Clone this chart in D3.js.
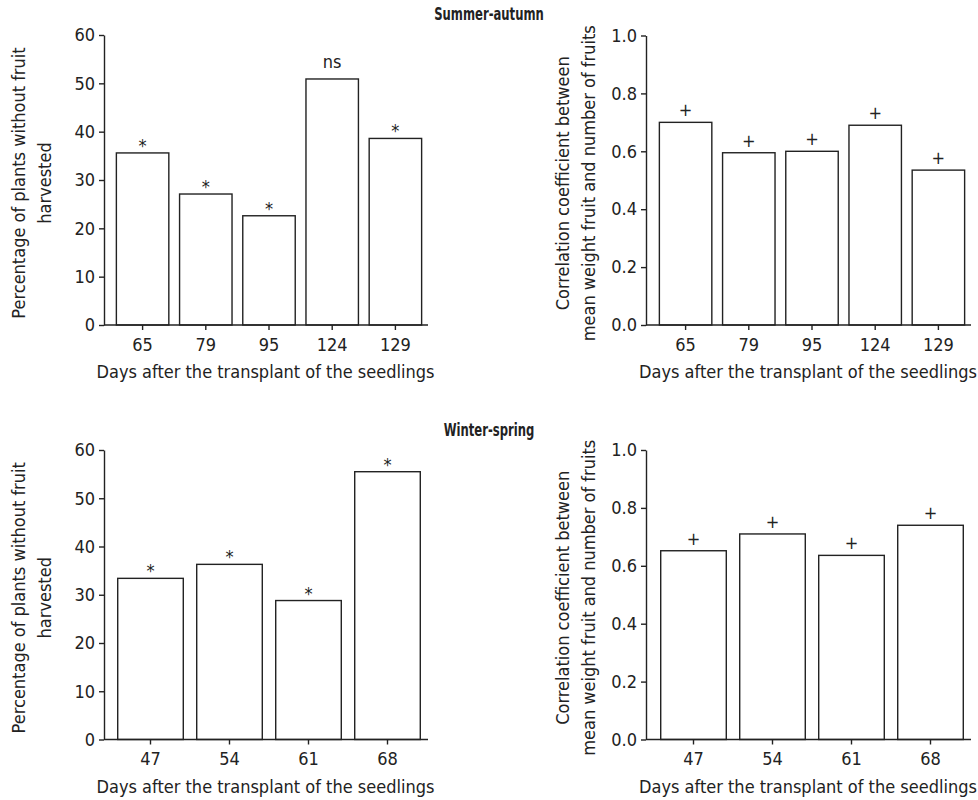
<!DOCTYPE html>
<html>
<head>
<meta charset="utf-8">
<script src="https://cdn.jsdelivr.net/npm/d3@7"></script>
<style>
  html, body { margin: 0; padding: 0; background: #fff; }
  svg text { font-family: "Liberation Sans Narrow", "Arial Narrow", "DejaVu Sans Condensed", sans-serif; fill: #222; }
</style>
</head>
<body>
<svg id="chart" width="978" height="800"></svg>
<script>
// ---- Data ----
const summerDays = ["65", "79", "95", "124", "129"];
const summerPctNoFruit = [35.6, 27.1, 22.6, 50.9, 38.6];
const summerPctMarks = ["*", "*", "*", "ns", "*"];
const summerCorr = [0.70, 0.595, 0.60, 0.69, 0.535];
const summerCorrMarks = ["+", "+", "+", "+", "+"];

const winterDays = ["47", "54", "61", "68"];
const winterPctNoFruit = [33.4, 36.3, 28.8, 55.5];
const winterPctMarks = ["*", "*", "*", "*"];
const winterCorr = [0.652, 0.71, 0.636, 0.74];
const winterCorrMarks = ["+", "+", "+", "+"];

const pctTicks = [0, 10, 20, 30, 40, 50, 60];
const corrTicks = [0, 0.2, 0.4, 0.6, 0.8, 1.0];
const seasonTitles = ["Summer-autumn", "Winter-spring"];
const xTitle = "Days after the transplant of the seedlings";
const pctLabel = ["Percentage of plants without fruit", "harvested"];
const corrLabel = ["Correlation coefficient between", "mean weight fruit and number of fruits"];

const svg = d3.select("#chart");
const ink = "#222";

function panel(opts) {
  const g = svg.append("g");
  const x = d3.scaleBand().domain(opts.cats).range([opts.x0, opts.x1])
    .paddingInner(0.17).paddingOuter(0.085);
  const y = d3.scaleLinear().domain([0, opts.ymax]).range([opts.yb, opts.yt]);

  // bars
  g.selectAll("rect.bar").data(opts.vals).join("rect")
    .attr("class", "bar")
    .attr("x", (d, i) => x(opts.cats[i]))
    .attr("width", x.bandwidth())
    .attr("y", d => y(d))
    .attr("height", d => y(0) - y(d))
    .attr("fill", "#fff").attr("stroke", ink).attr("stroke-width", 1.4);

  // annotations
  g.selectAll("text.mark").data(opts.marks).join("text")
    .attr("class", "mark")
    .attr("x", (d, i) => x(opts.cats[i]) + x.bandwidth() / 2)
    .attr("y", (d, i) => y(opts.vals[i]) - (d === "*" ? 1 : d === "+" ? 6 : 11))
    .attr("text-anchor", "middle")
    .attr("font-size", 18)
    .text(d => d);

  // y axis
  const ya = g.append("g").attr("transform", `translate(${opts.ax},0)`)
    .call(d3.axisLeft(y).tickValues(opts.ticks).tickSize(5).tickPadding(4)
      .tickFormat(opts.fmt).tickSizeOuter(0));
  ya.select(".domain").attr("stroke", ink).attr("stroke-width", 1.4);
  ya.selectAll(".tick line").attr("stroke", ink).attr("stroke-width", 1.4);
  ya.selectAll(".tick text").attr("font-size", 18).attr("fill", ink);

  // x axis
  const xa = g.append("g").attr("transform", `translate(0,${opts.yb})`)
    .call(d3.axisBottom(x).tickSize(5).tickPadding(8).tickSizeOuter(0));
  xa.select(".domain").attr("d", `M${opts.ax},0H${opts.x1 + 1}`)
    .attr("stroke", ink).attr("stroke-width", 1.4);
  xa.selectAll(".tick line").attr("stroke", ink).attr("stroke-width", 1.4);
  xa.selectAll(".tick text").attr("font-size", 18).attr("fill", ink);

  // x title
  g.append("text")
    .attr("x", (opts.ax + opts.x1) / 2)
    .attr("y", opts.yb + 53)
    .attr("text-anchor", "middle").attr("font-size", 18)
    .text(xTitle);

  // y title (two lines)
  const cy = (opts.yt + opts.yb) / 2 + 3;
  opts.ylabel.forEach((t, i) => {
    g.append("text")
      .attr("transform", `translate(${opts.labX[i]},${cy}) rotate(-90)`)
      .attr("text-anchor", "middle").attr("font-size", 18)
      .text(t);
  });
}

// titles
[[seasonTitles[0], 20], [seasonTitles[1], 436]].forEach(([t, yy]) => {
  svg.append("text")
    .attr("transform", `translate(489,${yy}) scale(0.76,1)`)
    .attr("text-anchor", "middle")
    .attr("font-size", 17).attr("font-weight", "bold").text(t);
});

const f0 = d3.format("d");
const f1 = d3.format(".1f");

panel({ cats: summerDays, vals: summerPctNoFruit, marks: summerPctMarks, ymax: 60, ticks: pctTicks, fmt: f0,
  ax: 104, x0: 111, x1: 427, yt: 35, yb: 325, ylabel: pctLabel, labX: [25, 51] });
panel({ cats: summerDays, vals: summerCorr, marks: summerCorrMarks, ymax: 1, ticks: corrTicks, fmt: f1,
  ax: 646, x0: 654, x1: 970, yt: 35.5, yb: 325, ylabel: corrLabel, labX: [569, 595] });
panel({ cats: winterDays, vals: winterPctNoFruit, marks: winterPctMarks, ymax: 60, ticks: pctTicks, fmt: f0,
  ax: 104, x0: 111, x1: 427, yt: 450, yb: 739.5, ylabel: pctLabel, labX: [25, 51] });
panel({ cats: winterDays, vals: winterCorr, marks: winterCorrMarks, ymax: 1, ticks: corrTicks, fmt: f1,
  ax: 646, x0: 654, x1: 970, yt: 450, yb: 739.5, ylabel: corrLabel, labX: [569, 595] });
</script>
</body>
</html>
